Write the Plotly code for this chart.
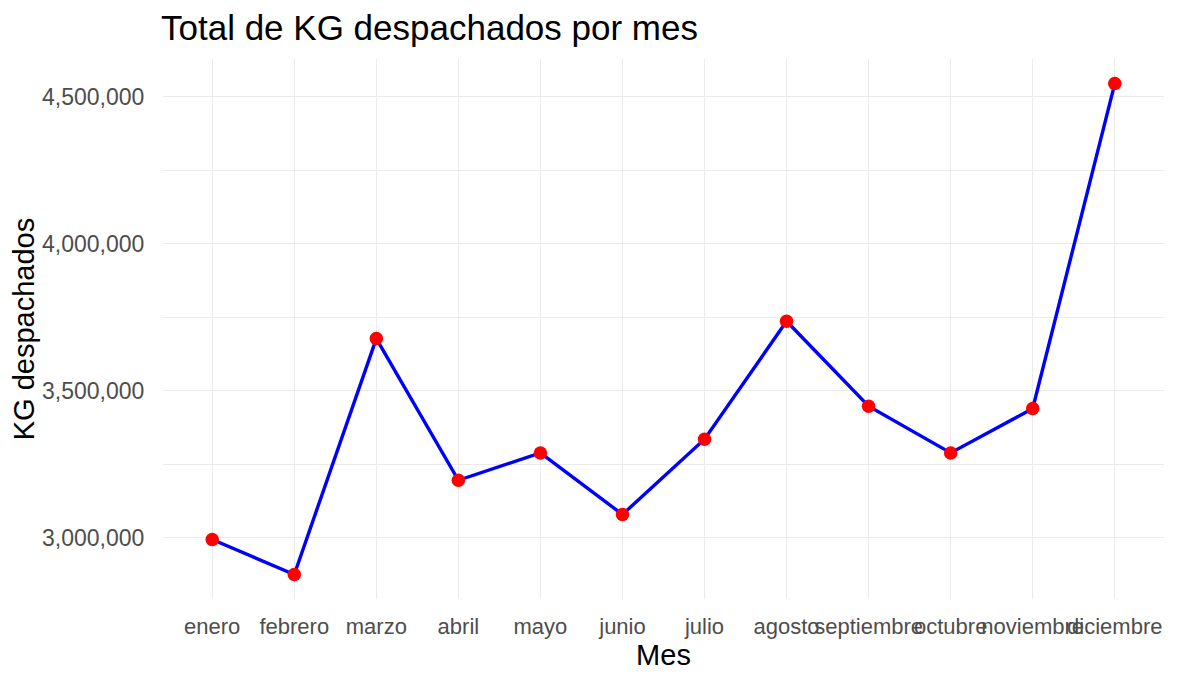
import plotly.graph_objects as go

meses = ["enero", "febrero", "marzo", "abril", "mayo", "junio", "julio",
         "agosto", "septiembre", "octubre", "noviembre", "diciembre"]
kg = [2994500, 2875500, 3678000, 3196000, 3289000, 3079600, 3335700,
      3737000, 3448000, 3289000, 3440000, 4545600]
y_ticks = [3000000, 3500000, 4000000, 4500000]

FONT = "Liberation Sans, Arial, sans-serif"

# page body has an 8px margin; size the figure so it fills the window exactly
W, H = 1169, 666

fig = go.Figure()
fig.add_trace(go.Scatter(
    x=meses, y=kg, mode="lines",
    line=dict(color="#0000FF", width=3.4),
    showlegend=False, hoverinfo="skip"))
fig.add_trace(go.Scatter(
    x=meses, y=kg, mode="markers",
    marker=dict(color="#FF0000", size=13.5, line=dict(width=0)),
    showlegend=False))

ymin, ymax = min(kg), max(kg)
pad = (ymax - ymin) * 0.05

fig.update_layout(
    width=W, height=H,
    margin=dict(l=155, r=13, t=51, b=75, autoexpand=False),
    paper_bgcolor="white", plot_bgcolor="white",
    font=dict(family=FONT, color="#000000"),
    title=dict(text="Total de KG despachados por mes", x=153/W, xref="container",
               xanchor="left", y=1 - 20/H, yref="container", yanchor="middle",
               font=dict(size=35, color="#000000", family=FONT)),
)
fig.update_xaxes(
    type="category", categoryorder="array", categoryarray=meses,
    range=[-0.6, len(meses) - 0.4], automargin=False,
    tickangle=0, showline=False, zeroline=False,
    showgrid=True, gridcolor="#EBEBEB", gridwidth=1.4,
    ticks="outside", ticklen=8, tickcolor="rgba(0,0,0,0)",
    tickfont=dict(size=22, color="#4D4D4D", family=FONT),
    title=dict(text="Mes", font=dict(size=29, color="#000000", family=FONT), standoff=2),
)
fig.update_yaxes(
    range=[ymin - pad, ymax + pad], automargin=False,
    tickvals=y_ticks, tickformat=",",
    showline=False, zeroline=False,
    showgrid=True, gridcolor="#EBEBEB", gridwidth=1.4,
    minor=dict(tick0=0, dtick=250000, showgrid=True, gridcolor="#EBEBEB", gridwidth=1.2),
    ticks="outside", ticklen=13, tickcolor="rgba(0,0,0,0)",
    tickfont=dict(size=23, color="#4D4D4D", family=FONT),
    title=dict(text="KG despachados", font=dict(size=29, color="#000000", family=FONT), standoff=6),
)

fig.write_html("out.html")
